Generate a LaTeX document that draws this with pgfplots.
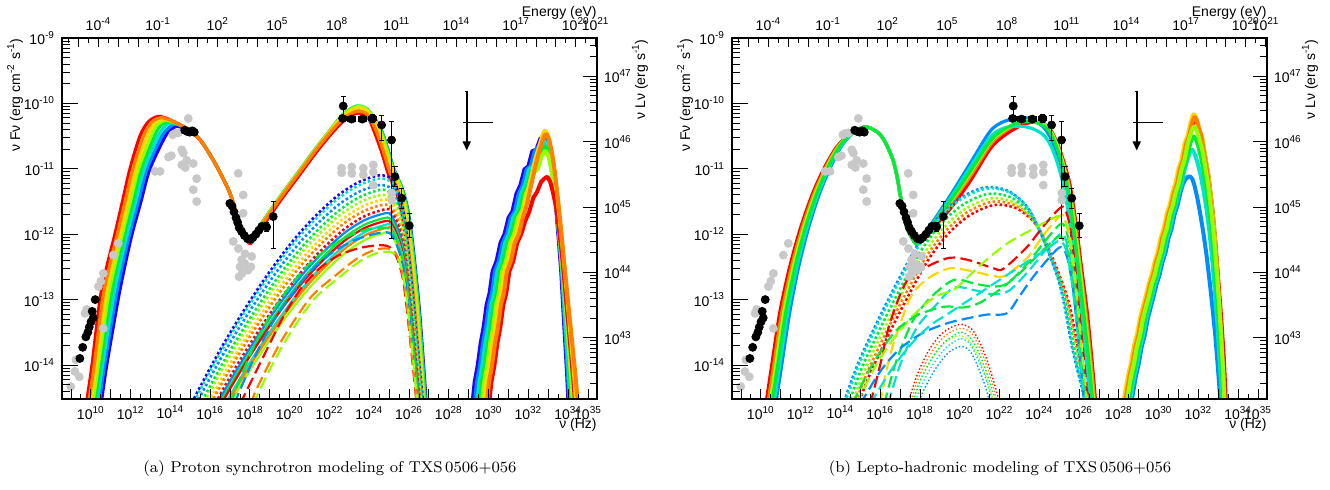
\documentclass[border=0pt]{standalone}
\usepackage{fontspec}
\newfontfamily\hel{Liberation Sans}
\usepackage{pgfplots}
\pgfplotsset{compat=1.18}
\usetikzlibrary{arrows.meta}

\definecolor{cRed}{RGB}{255,0,0}
\definecolor{cOrg}{RGB}{255,128,0}
\definecolor{cYel}{RGB}{255,215,0}
\definecolor{cChr}{RGB}{150,255,0}
\definecolor{cGrn}{RGB}{0,235,60}
\definecolor{cCyn}{RGB}{0,228,205}
\definecolor{cAzu}{RGB}{0,140,255}
\definecolor{cBlu}{RGB}{40,0,255}
\definecolor{ptgray}{RGB}{200,200,200}

\newcommand\tp[1]{10\textsuperscript{#1}}
\newcommand\lab{\hel\fontsize{7}{8}\selectfont}

% log minor ticks (axes hold log10 values)
\def\yminL{-14.39794}
\foreach \n in {-15,...,-10}{\foreach \k in {2,...,9}{%
  \pgfmathsetmacro\v{\n+log10(\k)}%
  \ifdim\v pt>-14.39pt\relax\xdef\yminL{\yminL,\v}\fi}}
\def\yminR{42.30103}
\foreach \n in {42,...,47}{\foreach \k in {2,...,9}{%
  \pgfmathsetmacro\v{\n+log10(\k)}%
  \ifdim\v pt>42.31pt\relax\ifdim\v pt<47.58pt\relax\xdef\yminR{\yminR,\v}\fi\fi}}

\pgfplotsset{
  base/.style={scale only axis, width=267.5pt, height=180.5pt, anchor=south west,
    tick align=inside, tick label style={font=\lab},
    axis line style={line width=0.65pt}, every tick/.style={black, line width=0.45pt}},
  mainax/.style={base, xmin=8.55, xmax=35.45, ymin=-14.52, ymax=-9,
    xtick=\empty, ytick=\empty, clip=true},
  botax/.style={base, xmin=8.55, xmax=35.45, ymin=0, ymax=1,
    axis x line*=bottom, axis y line=none, xtick={9,...,35},
    xticklabels={{},\tp{10},{},\tp{12},{},\tp{14},{},\tp{16},{},\tp{18},{},\tp{20},{},\tp{22},{},\tp{24},{},\tp{26},{},\tp{28},{},\tp{30},{},\tp{32},{},\tp{34},\tp{35}},
    minor xtick={8.5,9.5,...,35.5}, major tick length=5pt, minor tick length=2.5pt},
  topax/.style={base, xmin=-5.8335, xmax=21.0665, ymin=0, ymax=1,
    axis x line*=top, axis y line=none, xtick={-5,...,21},
    xticklabels={{},\tp{-4},{},{},\tp{-1},{},{},\tp{2},{},{},\tp{5},{},{},\tp{8},{},{},\tp{11},{},{},\tp{14},{},{},\tp{17},{},{},\tp{20},\tp{21}},
    minor xtick={-5.5,-4.5,...,20.5}, major tick length=4.5pt, minor tick length=2.3pt},
  leftax/.style={base, xmin=0, xmax=1, ymin=-14.52, ymax=-9,
    axis y line*=left, axis x line=none, ytick={-14,...,-9},
    yticklabels={\tp{-14},\tp{-13},\tp{-12},\tp{-11},\tp{-10},\tp{-9}},
    minor ytick/.expanded={\yminL}, major tick length=8pt, minor tick length=4pt},
  rightax/.style={base, xmin=0, xmax=1, ymin=42.065, ymax=47.585,
    axis y line*=right, axis x line=none, ytick={43,...,47},
    yticklabels={\tp{43},\tp{44},\tp{45},\tp{46},\tp{47}},
    minor ytick/.expanded={\yminR}, major tick length=7pt, minor tick length=3.5pt},
  synch/.style={line width=1.6pt, smooth, tension=0.5},
  dotl/.style={line width=1.3pt, dash pattern=on 1.3pt off 1.2pt, smooth},
  soll/.style={line width=1.1pt, smooth},
  dashl/.style={line width=1.1pt, dash pattern=on 6pt off 2.6pt, smooth},
  thind/.style={line width=0.7pt, dash pattern=on 0.7pt off 1.1pt, smooth},
  nu/.style={line width=2pt, line join=bevel},
  gry/.style={only marks, mark=*, mark size=2pt, color=ptgray, mark options={fill=ptgray}},
  blk/.style={only marks, mark=*, mark size=2pt, black, mark options={fill=black}},
  blkerr/.style={blk, error bars/.cd, x dir=both, x explicit, y dir=both, y explicit,
    error bar style={line width=0.5pt, black},
    error mark options={rotate=90, mark size=1.3pt, line width=0.5pt, black}},
}

% archival and contemporaneous data, shared by both panels
\newcommand\datapoints{%
\addplot[gry] coordinates {(8.99,-14.33)(9.2,-14.1)(9.25,-13.92)(9.42,-14.18)(9.71,-13.21)(9.79,-13.15)
 (10.38,-12.8)(10.5,-12.72)(10.63,-12.6)(10.63,-13.44)(11.13,-12.32)(11.38,-12.14)
 (13.23,-11.04)(13.48,-11.04)(13.9,-10.82)(14.05,-10.8)(14.23,-10.46)(14.12,-10.48)(14.4,-10.45)
 (14.57,-10.71)(14.65,-10.76)(14.82,-10.87)(14.57,-10.94)(14.75,-10.98)(15.15,-10.92)(14.9,-10.23)
 (15.32,-11.15)(15.15,-11.32)(15.32,-11.5)(17.41,-11.07)(17.66,-11.4)(17.66,-11.68)
 (17.16,-12.11)(17.42,-12.22)(17.58,-12.39)(17.5,-12.5)(17.75,-12.45)(17.75,-12.3)(18.09,-12.34)
 (17.6,-12.6)(17.9,-12.55)(18.05,-12.5)(17.45,-12.65)
 (22.61,-10.99)(22.61,-11.06)(23.12,-10.97)(23.12,-11.07)(23.7,-10.99)(23.7,-11.09)
 (24.2,-10.94)(24.2,-11.05)(24.2,-11.25)(25.13,-11.37)(25.13,-11.48)};
\addplot[blk] coordinates {(9.45,-13.9)(9.59,-13.73)(9.75,-13.57)(9.85,-13.5)(9.92,-13.42)(10.01,-13.34)
 (10.07,-13.18)(10.12,-13.28)(10.22,-13.0)
 (14.72,-10.41)(14.85,-10.43)(14.97,-10.44)(15.1,-10.42)(15.2,-10.44)
 (16.99,-11.53)(17.1,-11.57)(17.2,-11.66)(17.3,-11.75)(17.38,-11.82)(17.46,-11.9)(17.58,-11.96)
 (17.72,-12.02)(17.88,-12.07)(18.02,-12.08)(18.15,-12.05)(18.3,-12.0)(18.45,-11.94)(18.6,-11.88)};
\addplot[blkerr] coordinates {(18.84,-11.89) +- (0,0.07) (19.17,-11.73) += (0,0.23) -= (0,0.49)
 (22.69,-10.04) +- (0,0.14) (22.66,-10.23) +- (0.17,0) (23.11,-10.24) +- (0.2,0)
 (23.65,-10.24) +- (0.2,0) (24.17,-10.23) +- (0.2,0.06)
 (24.62,-10.33) += (0.15,0.15) -= (0.15,0.23) (25.12,-10.56) += (0.12,0.28) -= (0.12,1.5)
 (25.29,-11.12) +- (0.05,0.15) (25.63,-11.45) +- (0.05,0.15) (26.01,-11.87) +- (0.05,0.18)};
\addplot[black, line width=0.8pt] coordinates {(28.73,-10.29)(30.23,-10.29)};
\addplot[black, line width=0.8pt] coordinates {(28.82,-9.82)(28.98,-9.82)};
\addplot[black, line width=0.8pt, -{Triangle[width=4pt,length=4.5pt]}] coordinates {(28.9,-9.82)(28.9,-10.72)};
}

\begin{document}
\begin{tikzpicture}
\useasboundingbox (0,0) rectangle (665pt,244.5pt);

% ================= panel (a) =================
\begin{axis}[mainax, at={(31pt,45pt)}]
% synchrotron + proton synchrotron, rainbow of parameter sets
\addplot[cBlu, synch] coordinates {(10.32,-15)(10.55,-14.52)(10.8,-14)(11.37,-13)(11.7,-12.5)(12.07,-12)(12.52,-11.5)(12.97,-11)(13.75,-10.5)(14.05,-10.4)(14.3,-10.35)(14.6,-10.37)(15.07,-10.43)(15.6,-10.6)(16.16,-10.87)(16.6,-11.12)(16.99,-11.37)(17.25,-11.62)(17.5,-11.89)(17.8,-12.06)(18.04,-12.12)(18.5,-11.9)(19.5,-11.46)(20.5,-11.05)(21.3,-10.72)(22.02,-10.45)(22.7,-10.22)(23.37,-10.12)(23.9,-10.16)(24.55,-10.38)(24.95,-10.72)(25.25,-11.02)(25.65,-11.3)(25.95,-11.65)(26.2,-12.2)(26.53,-13.2)(26.85,-14.52)(26.95,-15)};
\addplot[cAzu, synch] coordinates {(10.21,-15)(10.44,-14.52)(10.69,-14)(11.24,-13)(11.57,-12.5)(11.95,-12)(12.39,-11.5)(12.83,-11)(13.57,-10.5)(13.9,-10.38)(14.15,-10.32)(14.45,-10.33)(14.7,-10.37)(15.07,-10.43)(15.6,-10.6)(16.16,-10.87)(16.6,-11.12)(16.99,-11.37)(17.25,-11.62)(17.5,-11.89)(17.8,-12.06)(18.04,-12.11)(18.5,-11.89)(19.5,-11.45)(20.5,-11.04)(21.3,-10.71)(22.02,-10.44)(22.7,-10.21)(23.37,-10.1)(23.9,-10.14)(24.52,-10.37)(24.92,-10.71)(25.22,-11.01)(25.62,-11.29)(25.92,-11.64)(26.17,-12.19)(26.5,-13.19)(26.82,-14.52)(26.92,-15)};
\addplot[cCyn, synch] coordinates {(10.11,-15)(10.34,-14.52)(10.59,-14)(11.11,-13)(11.44,-12.5)(11.82,-12)(12.25,-11.5)(12.68,-11)(13.38,-10.5)(13.7,-10.36)(14.0,-10.3)(14.3,-10.31)(14.6,-10.35)(15.07,-10.43)(15.6,-10.6)(16.16,-10.87)(16.6,-11.12)(16.99,-11.37)(17.25,-11.62)(17.5,-11.89)(17.8,-12.06)(18.04,-12.1)(18.5,-11.88)(19.5,-11.44)(20.5,-11.03)(21.3,-10.7)(22.02,-10.43)(22.7,-10.19)(23.37,-10.08)(23.9,-10.12)(24.5,-10.35)(24.9,-10.69)(25.2,-10.99)(25.6,-11.27)(25.9,-11.62)(26.15,-12.17)(26.48,-13.17)(26.8,-14.52)(26.9,-15)};
\addplot[cGrn, synch] coordinates {(10.0,-15)(10.23,-14.52)(10.48,-14)(10.98,-13)(11.31,-12.5)(11.70,-12)(12.12,-11.5)(12.54,-11)(13.20,-10.5)(13.5,-10.34)(13.88,-10.28)(14.2,-10.3)(14.55,-10.34)(15.07,-10.43)(15.6,-10.6)(16.16,-10.87)(16.6,-11.12)(16.99,-11.37)(17.25,-11.62)(17.5,-11.89)(17.8,-12.06)(18.04,-12.09)(18.5,-11.87)(19.5,-11.43)(20.5,-11.02)(21.3,-10.69)(22.02,-10.41)(22.7,-10.16)(23.37,-10.04)(23.9,-10.09)(24.48,-10.33)(24.88,-10.67)(25.18,-10.97)(25.58,-11.25)(25.88,-11.6)(26.13,-12.15)(26.46,-13.15)(26.78,-14.52)(26.88,-15)};
\addplot[cChr, synch] coordinates {(9.9,-15)(10.13,-14.52)(10.38,-14)(10.85,-13)(11.19,-12.5)(11.58,-12)(11.99,-11.5)(12.40,-11)(13.02,-10.5)(13.35,-10.32)(13.75,-10.26)(14.1,-10.28)(14.5,-10.33)(15.07,-10.43)(15.6,-10.6)(16.16,-10.87)(16.6,-11.12)(16.99,-11.37)(17.25,-11.62)(17.5,-11.89)(17.8,-12.06)(18.04,-12.1)(18.5,-11.88)(19.5,-11.44)(20.5,-11.03)(21.3,-10.7)(22.02,-10.42)(22.7,-10.17)(23.37,-10.05)(23.9,-10.1)(24.45,-10.34)(24.85,-10.68)(25.15,-10.98)(25.55,-11.26)(25.85,-11.61)(26.1,-12.16)(26.43,-13.16)(26.75,-14.52)(26.85,-15)};
\addplot[cYel, synch] coordinates {(9.79,-15)(10.02,-14.52)(10.27,-14)(10.72,-13)(11.06,-12.5)(11.46,-12)(11.86,-11.5)(12.26,-11)(12.84,-10.5)(13.2,-10.3)(13.62,-10.24)(14.0,-10.26)(14.5,-10.33)(15.07,-10.43)(15.6,-10.6)(16.16,-10.87)(16.6,-11.12)(16.99,-11.37)(17.25,-11.62)(17.5,-11.89)(17.8,-12.06)(18.04,-12.11)(18.5,-11.89)(19.5,-11.45)(20.5,-11.04)(21.3,-10.71)(22.02,-10.43)(22.7,-10.19)(23.37,-10.07)(23.9,-10.12)(24.4,-10.36)(24.8,-10.7)(25.1,-11.0)(25.5,-11.28)(25.8,-11.63)(26.05,-12.18)(26.38,-13.18)(26.7,-14.52)(26.8,-15)};
\addplot[cRed, synch] coordinates {(9.58,-15)(9.81,-14.52)(10.06,-14)(10.46,-13)(10.8,-12.5)(11.21,-12)(11.59,-11.5)(11.97,-11)(12.47,-10.5)(12.9,-10.28)(13.39,-10.2)(13.9,-10.24)(14.5,-10.33)(15.07,-10.43)(15.6,-10.6)(16.16,-10.87)(16.6,-11.12)(16.99,-11.37)(17.25,-11.62)(17.5,-11.89)(17.8,-12.06)(18.04,-12.14)(18.5,-11.94)(19.5,-11.5)(20.5,-11.09)(21.3,-10.76)(22.02,-10.49)(22.7,-10.27)(23.37,-10.15)(23.9,-10.2)(24.25,-10.43)(24.65,-10.77)(24.95,-11.07)(25.35,-11.35)(25.65,-11.7)(25.9,-12.25)(26.23,-13.25)(26.55,-14.52)(26.65,-15)};
\addplot[cOrg, synch] coordinates {(9.69,-15)(9.92,-14.52)(10.17,-14)(10.59,-13)(10.93,-12.5)(11.33,-12)(11.72,-11.5)(12.11,-11)(12.65,-10.5)(13.05,-10.29)(13.5,-10.22)(13.95,-10.25)(14.5,-10.33)(15.07,-10.43)(15.6,-10.6)(16.16,-10.87)(16.6,-11.12)(16.99,-11.37)(17.25,-11.62)(17.5,-11.89)(17.8,-12.06)(18.04,-12.12)(18.5,-11.9)(19.5,-11.46)(20.5,-11.05)(21.3,-10.72)(22.02,-10.45)(22.7,-10.23)(23.37,-10.12)(23.9,-10.17)(24.32,-10.4)(24.72,-10.74)(25.02,-11.04)(25.42,-11.32)(25.72,-11.67)(25.97,-12.22)(26.3,-13.22)(26.62,-14.52)(26.72,-15)};
% components: dotted
\addplot[cBlu, dotl] coordinates {(14.5,-14.92)(15.5,-14.33)(16.5,-13.77)(17.5,-13.26)(18.5,-12.79)(19.5,-12.36)(20.5,-11.98)(21.5,-11.66)(22.5,-11.39)(23.5,-11.2)(24.5,-11.1)(25.1,-11.15)(25.45,-11.35)(25.75,-11.7)(26.05,-12.5)(26.35,-13.45)(26.65,-14.4)(26.85,-15.1)};
\addplot[cCyn, dotl] coordinates {(14.5,-14.97)(15.5,-14.38)(16.5,-13.82)(17.5,-13.31)(18.5,-12.84)(19.5,-12.41)(20.5,-12.03)(21.5,-11.71)(22.5,-11.44)(23.5,-11.25)(24.5,-11.15)(25.1,-11.2)(25.45,-11.4)(25.75,-11.75)(26.05,-12.55)(26.35,-13.5)(26.65,-14.45)(26.85,-15.15)};
\addplot[cAzu, dotl] coordinates {(14.5,-15.07)(15.5,-14.48)(16.5,-13.92)(17.5,-13.41)(18.5,-12.94)(19.5,-12.51)(20.5,-12.13)(21.5,-11.81)(22.5,-11.54)(23.5,-11.35)(24.5,-11.25)(25.1,-11.3)(25.45,-11.5)(25.75,-11.85)(26.05,-12.65)(26.35,-13.6)(26.65,-14.55)};
\addplot[cGrn, dotl] coordinates {(15.6,-14.55)(16.6,-13.99)(17.6,-13.48)(18.6,-13.01)(19.6,-12.58)(20.6,-12.2)(21.6,-11.88)(22.6,-11.61)(23.6,-11.42)(24.6,-11.32)(25.1,-11.37)(25.45,-11.57)(25.75,-11.92)(26.05,-12.72)(26.35,-13.67)(26.65,-14.62)};
\addplot[cChr, dotl] coordinates {(15.6,-14.63)(16.6,-14.07)(17.6,-13.56)(18.6,-13.09)(19.6,-12.66)(20.6,-12.28)(21.6,-11.96)(22.6,-11.69)(23.6,-11.5)(24.6,-11.4)(25.1,-11.45)(25.45,-11.65)(25.75,-12.0)(26.05,-12.8)(26.35,-13.75)(26.65,-14.7)};
\addplot[cYel, dotl] coordinates {(15.7,-14.7)(16.7,-14.14)(17.7,-13.63)(18.7,-13.16)(19.7,-12.73)(20.7,-12.35)(21.7,-12.03)(22.7,-11.76)(23.7,-11.57)(24.7,-11.47)(25.1,-11.51)(25.45,-11.72)(25.75,-12.07)(26.05,-12.87)(26.35,-13.82)(26.65,-14.77)};
\addplot[cOrg, dotl] coordinates {(15.7,-14.78)(16.7,-14.22)(17.7,-13.71)(18.7,-13.24)(19.7,-12.81)(20.7,-12.43)(21.7,-12.11)(22.7,-11.84)(23.7,-11.65)(24.7,-11.55)(25.1,-11.59)(25.45,-11.8)(25.75,-12.15)(26.05,-12.95)(26.35,-13.9)(26.65,-14.85)};
\addplot[cRed, dotl] coordinates {(15.8,-14.85)(16.8,-14.29)(17.8,-13.78)(18.8,-13.31)(19.8,-12.88)(20.8,-12.5)(21.8,-12.18)(22.8,-11.91)(23.8,-11.72)(24.8,-11.62)(25.1,-11.65)(25.45,-11.87)(25.75,-12.22)(26.05,-13.02)(26.35,-13.97)(26.65,-14.92)};
% components: solid
\addplot[cAzu, soll] coordinates {(15.8,-14.91)(16.8,-14.35)(17.8,-13.84)(18.8,-13.37)(19.8,-12.94)(20.8,-12.56)(21.8,-12.24)(22.8,-11.97)(23.8,-11.78)(24.8,-11.68)(25.1,-11.71)(25.45,-11.93)(25.75,-12.28)(26.05,-13.08)(26.35,-14.03)(26.65,-14.98)};
\addplot[cGrn, soll] coordinates {(15.8,-14.98)(16.8,-14.42)(17.8,-13.91)(18.8,-13.44)(19.8,-13.01)(20.8,-12.63)(21.8,-12.31)(22.8,-12.04)(23.8,-11.85)(24.8,-11.75)(25.1,-11.78)(25.45,-12.0)(25.75,-12.35)(26.05,-13.15)(26.35,-14.1)(26.65,-15.05)};
\addplot[cRed, soll] coordinates {(15.8,-15.03)(16.8,-14.47)(17.8,-13.96)(18.8,-13.49)(19.8,-13.06)(20.8,-12.68)(21.8,-12.36)(22.8,-12.09)(23.8,-11.9)(24.8,-11.8)(25.1,-11.83)(25.45,-12.05)(25.75,-12.4)(26.05,-13.2)(26.35,-14.15)(26.65,-15.1)};
\addplot[cCyn, soll] coordinates {(15.9,-15.08)(16.9,-14.52)(17.9,-14.01)(18.9,-13.54)(19.9,-13.11)(20.9,-12.73)(21.9,-12.41)(22.9,-12.14)(23.9,-11.95)(24.9,-11.85)(25.1,-11.87)(25.45,-12.1)(25.75,-12.45)(26.05,-13.25)(26.35,-14.2)(26.65,-15.15)};
\addplot[cOrg, soll] coordinates {(16.9,-14.57)(17.9,-14.06)(18.9,-13.59)(19.9,-13.16)(20.9,-12.78)(21.9,-12.46)(22.9,-12.19)(23.9,-12.0)(24.9,-11.9)(25.1,-11.92)(25.45,-12.15)(25.75,-12.5)(26.05,-13.3)(26.35,-14.25)(26.65,-15.2)};
\addplot[cChr, soll] coordinates {(16.9,-14.64)(17.9,-14.13)(18.9,-13.66)(19.9,-13.23)(20.9,-12.85)(21.9,-12.53)(22.9,-12.26)(23.9,-12.07)(24.9,-11.97)(25.1,-11.99)(25.45,-12.22)(25.75,-12.57)(26.05,-13.37)(26.35,-14.32)(26.65,-15.27)};
% components: dashed
\addplot[cGrn, dashl] coordinates {(17.0,-14.6)(18.0,-13.85)(19.0,-13.25)(20.0,-12.8)(21.0,-12.45)(22.0,-12.2)(23.0,-12.02)(24.0,-11.92)(24.8,-11.9)(25.15,-11.95)(25.45,-12.15)(25.75,-12.5)(26.05,-13.3)(26.35,-14.25)(26.5,-14.8)};
\addplot[cAzu, dashl] coordinates {(17.2,-14.6)(18.2,-13.9)(19.2,-13.32)(20.2,-12.88)(21.2,-12.52)(22.2,-12.27)(23.2,-12.1)(24.2,-12.0)(24.85,-11.97)(25.15,-12.02)(25.45,-12.22)(25.75,-12.57)(26.05,-13.37)(26.35,-14.32)(26.5,-14.8)};
\addplot[cRed, dashl] coordinates {(17.5,-14.6)(18.84,-13.77)(19.7,-13.25)(20.52,-12.85)(21.4,-12.55)(22.36,-12.34)(23.4,-12.22)(24.37,-12.17)(24.9,-12.18)(25.2,-12.25)(25.5,-12.45)(25.75,-12.8)(26.05,-13.6)(26.35,-14.5)(26.5,-15)};
\addplot[cOrg, dashl] coordinates {(18.1,-14.6)(18.24,-14.43)(19.1,-13.9)(19.91,-13.47)(21.1,-12.95)(22.43,-12.6)(23.4,-12.37)(24.27,-12.24)(24.94,-12.22)(25.3,-12.28)(25.55,-12.45)(25.8,-12.85)(26.05,-13.55)(26.35,-14.45)(26.5,-15)};
\addplot[cChr, dashl] coordinates {(18.2,-14.6)(18.34,-14.48)(19.2,-13.95)(20.01,-13.52)(21.2,-13.0)(22.53,-12.65)(23.5,-12.42)(24.37,-12.29)(25.04,-12.27)(25.35,-12.33)(25.6,-12.5)(25.85,-12.9)(26.1,-13.6)(26.4,-14.5)(26.55,-15)};
% high-energy bump
\addplot[cBlu, nu] coordinates {(29.15,-14.7)(29.3,-14.26)(29.45,-14.01)(29.6,-13.67)(29.75,-13.42)(29.9,-13.08)(30.05,-12.9)(30.2,-12.57)(30.4,-12.41)(30.6,-12.13)(30.8,-12.0)(31.0,-11.75)(31.2,-11.65)(31.4,-11.38)(31.6,-11.25)(31.8,-11.01)(32.0,-10.96)(32.2,-10.73)(32.4,-10.71)(32.6,-10.54)(32.75,-10.5)(32.9,-10.58)(33.05,-10.72)(33.2,-11.08)(33.35,-11.42)(33.5,-11.98)(33.65,-12.56)(33.8,-13.38)(33.95,-14.15)(34.05,-14.8)};
\addplot[cAzu, nu] coordinates {(29.27,-14.7)(29.42,-14.26)(29.57,-14.01)(29.72,-13.67)(29.87,-13.42)(30.02,-13.08)(30.17,-12.9)(30.32,-12.57)(30.52,-12.41)(30.72,-12.13)(30.92,-12.0)(31.12,-11.75)(31.32,-11.65)(31.52,-11.38)(31.72,-11.25)(31.92,-11.01)(32.12,-10.96)(32.32,-10.73)(32.52,-10.66)(32.68,-10.55)(32.8,-10.5)(32.95,-10.62)(33.1,-10.78)(33.25,-11.12)(33.4,-11.5)(33.55,-12.04)(33.7,-12.62)(33.85,-13.42)(34.0,-14.2)(34.1,-14.8)};
\addplot[cCyn, nu] coordinates {(29.39,-14.7)(29.54,-14.26)(29.69,-14.01)(29.84,-13.67)(29.99,-13.42)(30.14,-13.08)(30.29,-12.9)(30.44,-12.57)(30.64,-12.41)(30.84,-12.13)(31.04,-12.0)(31.24,-11.75)(31.44,-11.65)(31.64,-11.38)(31.84,-11.25)(32.04,-11.01)(32.24,-10.96)(32.44,-10.76)(32.62,-10.68)(32.8,-10.58)(32.95,-10.64)(33.1,-10.84)(33.25,-11.16)(33.4,-11.52)(33.55,-12.0)(33.72,-12.65)(33.88,-13.4)(34.05,-14.2)(34.15,-14.8)};
\addplot[cGrn, nu] coordinates {(29.51,-14.7)(29.66,-14.26)(29.81,-14.01)(29.96,-13.67)(30.11,-13.42)(30.26,-13.08)(30.41,-12.9)(30.56,-12.57)(30.76,-12.41)(30.96,-12.13)(31.16,-12.0)(31.36,-11.75)(31.56,-11.65)(31.76,-11.38)(31.96,-11.25)(32.16,-11.04)(32.36,-10.96)(32.56,-10.8)(32.72,-10.72)(32.85,-10.65)(33.0,-10.72)(33.15,-10.92)(33.3,-11.25)(33.45,-11.62)(33.62,-12.1)(33.8,-12.75)(33.95,-13.45)(34.1,-14.2)(34.22,-14.8)};
\addplot[cChr, nu] coordinates {(29.63,-14.7)(29.78,-14.26)(29.93,-14.01)(30.08,-13.67)(30.23,-13.42)(30.38,-13.08)(30.53,-12.9)(30.68,-12.57)(30.88,-12.41)(31.08,-12.13)(31.28,-12.0)(31.48,-11.75)(31.68,-11.65)(31.88,-11.38)(32.08,-11.28)(32.28,-11.06)(32.48,-11.0)(32.65,-10.82)(32.85,-10.72)(33.0,-10.8)(33.15,-11.0)(33.3,-11.3)(33.45,-11.7)(33.62,-12.2)(33.8,-12.8)(33.98,-13.5)(34.15,-14.2)(34.3,-14.8)};
\addplot[cRed, nu] coordinates {(29.99,-14.7)(30.14,-14.26)(30.29,-14.01)(30.44,-13.67)(30.59,-13.42)(30.74,-13.08)(30.89,-12.9)(31.04,-12.57)(31.24,-12.41)(31.44,-12.13)(31.64,-12.0)(31.84,-11.8)(32.04,-11.66)(32.24,-11.45)(32.44,-11.35)(32.64,-11.2)(32.8,-11.15)(32.95,-11.12)(33.1,-11.2)(33.25,-11.38)(33.4,-11.6)(33.55,-11.95)(33.7,-12.35)(33.85,-12.85)(34.0,-13.35)(34.15,-13.85)(34.28,-14.3)(34.4,-14.8)};
\addplot[cYel, nu] coordinates {(29.75,-14.7)(29.9,-14.26)(30.05,-14.01)(30.2,-13.67)(30.35,-13.42)(30.5,-13.08)(30.65,-12.9)(30.8,-12.57)(31.0,-12.41)(31.2,-12.13)(31.4,-12.0)(31.6,-11.75)(31.8,-11.6)(32.0,-11.3)(32.2,-11.05)(32.4,-10.8)(32.6,-10.6)(32.75,-10.45)(32.85,-10.41)(33.0,-10.5)(33.15,-10.7)(33.3,-11.0)(33.45,-11.4)(33.6,-11.85)(33.78,-12.4)(33.95,-12.95)(34.12,-13.55)(34.3,-14.15)(34.45,-14.8)};
\addplot[cOrg, nu] coordinates {(29.87,-14.7)(30.02,-14.26)(30.17,-14.01)(30.32,-13.67)(30.47,-13.42)(30.62,-13.08)(30.77,-12.9)(30.92,-12.57)(31.12,-12.41)(31.32,-12.13)(31.52,-12.0)(31.72,-11.75)(31.92,-11.55)(32.12,-11.28)(32.32,-11.0)(32.5,-10.78)(32.68,-10.6)(32.82,-10.48)(32.92,-10.47)(33.05,-10.56)(33.2,-10.78)(33.35,-11.1)(33.5,-11.5)(33.65,-11.95)(33.82,-12.5)(34.0,-13.05)(34.2,-13.65)(34.38,-14.2)(34.55,-14.8)};
\datapoints
\end{axis}
\begin{axis}[botax, at={(31pt,45pt)}]\end{axis}
\begin{axis}[leftax, at={(31pt,45pt)}]\end{axis}
\begin{axis}[topax, at={(31pt,45pt)}]\end{axis}
\begin{axis}[rightax, at={(31pt,45pt)}]\end{axis}
\node[rotate=90, anchor=east, inner sep=0pt, font=\lab] at (7.5pt,225.5pt) {ν Fν (erg cm\textsuperscript{-2} s\textsuperscript{-1})};
\node[rotate=90, anchor=east, inner sep=0pt, font=\lab] at (320pt,225pt) {ν Lν (erg s\textsuperscript{-1})};
\node[anchor=base east, inner sep=0pt, font=\lab] at (298.5pt,236.5pt) {Energy (eV)};
\node[anchor=base east, inner sep=0pt, font=\lab] at (298.5pt,30.5pt) {ν (Hz)};
\node[anchor=base, inner sep=0pt, font=\fontsize{7.85}{10}\selectfont] at (165pt,8.5pt) {(a) Proton synchrotron modeling of TXS\,0506+056};

% ================= panel (b) =================
\begin{axis}[mainax, at={(366pt,45pt)}]
\addplot[cRed, synch] coordinates {(10.05,-15)(10.29,-14.52)(10.55,-14)(10.95,-13.2)(11.45,-12.5)(12.0,-11.9)(12.6,-11.38)(13.2,-10.98)(13.8,-10.67)(14.4,-10.48)(14.9,-10.39)(15.32,-10.36)(15.65,-10.4)(15.98,-10.47)(16.3,-10.62)(16.65,-10.87)(16.85,-11.12)(16.99,-11.37)(17.15,-11.62)(17.33,-11.89)(17.6,-12.06)(17.9,-12.15)(18.5,-11.96)(19.5,-11.62)(20.5,-11.2)(21.52,-10.7)(22.2,-10.5)(23.0,-10.35)(23.6,-10.29)(24.2,-10.3)(24.6,-10.42)(25.0,-10.68)(25.5,-11.18)(25.82,-11.78)(26.12,-12.5)(26.45,-13.3)(26.8,-14.45)(26.9,-15)};
\addplot[cOrg, synch] coordinates {(10.15,-15)(10.39,-14.52)(10.65,-14)(11.05,-13.2)(11.54,-12.5)(12.08,-11.9)(12.67,-11.38)(13.26,-10.98)(13.84,-10.67)(14.42,-10.48)(14.91,-10.39)(15.32,-10.36)(15.65,-10.4)(15.98,-10.47)(16.3,-10.62)(16.65,-10.87)(16.85,-11.12)(16.99,-11.37)(17.15,-11.62)(17.33,-11.89)(17.6,-12.06)(17.9,-12.15)(18.5,-11.93)(19.5,-11.55)(20.5,-11.13)(21.52,-10.64)(22.2,-10.44)(23.0,-10.3)(23.6,-10.27)(24.2,-10.31)(24.6,-10.45)(25.0,-10.72)(25.45,-11.2)(25.78,-11.8)(26.08,-12.55)(26.4,-13.35)(26.75,-14.45)(26.85,-15)};
\addplot[cAzu, synch] coordinates {(10.55,-15)(10.79,-14.52)(11.05,-14)(11.45,-13.2)(11.9,-12.5)(12.4,-11.9)(12.95,-11.38)(13.5,-10.98)(14.02,-10.67)(14.52,-10.48)(14.95,-10.39)(15.32,-10.36)(15.65,-10.4)(15.98,-10.47)(16.3,-10.62)(16.65,-10.87)(16.85,-11.12)(16.99,-11.37)(17.15,-11.62)(17.33,-11.89)(17.6,-12.06)(17.9,-12.15)(18.5,-11.88)(19.5,-11.42)(20.5,-10.93)(21.52,-10.43)(22.2,-10.28)(23.0,-10.22)(23.6,-10.24)(24.2,-10.36)(24.6,-10.55)(25.0,-10.9)(25.3,-11.35)(25.6,-11.95)(25.9,-12.7)(26.2,-13.5)(26.55,-14.5)(26.65,-15)};
\addplot[cCyn, synch] coordinates {(10.45,-15)(10.69,-14.52)(10.95,-14)(11.35,-13.2)(11.81,-12.5)(12.32,-11.9)(12.88,-11.38)(13.44,-10.98)(13.98,-10.67)(14.5,-10.48)(14.94,-10.39)(15.32,-10.36)(15.65,-10.4)(15.98,-10.47)(16.3,-10.62)(16.65,-10.87)(16.85,-11.12)(16.99,-11.37)(17.15,-11.62)(17.33,-11.89)(17.6,-12.06)(17.9,-12.15)(18.5,-11.9)(19.5,-11.46)(20.5,-10.99)(21.52,-10.52)(22.2,-10.38)(23.0,-10.35)(23.6,-10.38)(24.2,-10.48)(24.6,-10.66)(25.0,-11.0)(25.35,-11.45)(25.65,-12.05)(25.95,-12.8)(26.25,-13.6)(26.6,-14.55)(26.7,-15)};
\addplot[cChr, synch] coordinates {(10.25,-15)(10.49,-14.52)(10.75,-14)(11.15,-13.2)(11.63,-12.5)(12.16,-11.9)(12.74,-11.38)(13.32,-10.98)(13.89,-10.67)(14.45,-10.48)(14.92,-10.39)(15.32,-10.36)(15.65,-10.4)(15.98,-10.47)(16.3,-10.62)(16.65,-10.87)(16.85,-11.12)(16.99,-11.37)(17.15,-11.62)(17.33,-11.89)(17.6,-12.06)(17.9,-12.15)(18.5,-11.92)(19.5,-11.52)(20.5,-11.08)(21.52,-10.6)(22.2,-10.42)(23.0,-10.28)(23.6,-10.26)(24.2,-10.3)(24.6,-10.44)(25.0,-10.72)(25.42,-11.2)(25.75,-11.8)(26.05,-12.55)(26.35,-13.35)(26.7,-14.45)(26.8,-15)};
\addplot[cGrn, synch] coordinates {(10.35,-15)(10.59,-14.52)(10.85,-14)(11.25,-13.2)(11.72,-12.5)(12.24,-11.9)(12.81,-11.38)(13.38,-10.98)(13.93,-10.67)(14.47,-10.48)(14.93,-10.39)(15.32,-10.36)(15.65,-10.4)(15.98,-10.47)(16.3,-10.62)(16.65,-10.87)(16.85,-11.12)(16.99,-11.37)(17.15,-11.62)(17.33,-11.89)(17.6,-12.06)(17.9,-12.15)(18.5,-11.91)(19.5,-11.5)(20.5,-11.05)(21.52,-10.58)(22.2,-10.4)(23.0,-10.29)(23.6,-10.28)(24.2,-10.34)(24.6,-10.48)(25.0,-10.78)(25.4,-11.25)(25.7,-11.85)(26.0,-12.6)(26.3,-13.4)(26.65,-14.45)(26.75,-15)};
% thick dotted bump
\addplot[cRed, dotl] coordinates {(14.4,-15.05)(14.7,-14.77)(15.4,-14.2)(16.4,-13.55)(17.4,-12.95)(18.4,-12.4)(19.4,-12.0)(20.4,-11.73)(21.4,-11.58)(22.1,-11.55)(22.9,-11.61)(23.6,-11.77)(24.1,-11.98)(24.77,-12.44)(25.44,-13.0)(25.8,-13.5)(26.11,-14.02)(26.45,-14.45)(26.78,-14.85)};
\addplot[cOrg, dotl] coordinates {(14.3,-15.0)(14.6,-14.72)(15.3,-14.15)(16.3,-13.5)(17.3,-12.9)(18.3,-12.35)(19.3,-11.95)(20.3,-11.68)(21.3,-11.53)(22.0,-11.5)(22.8,-11.56)(23.5,-11.72)(24.0,-11.93)(24.67,-12.39)(25.34,-12.95)(25.7,-13.45)(26.01,-13.97)(26.35,-14.4)(26.68,-14.8)};
\addplot[cChr, dotl] coordinates {(14.2,-14.95)(14.5,-14.67)(15.2,-14.1)(16.2,-13.45)(17.2,-12.85)(18.2,-12.3)(19.2,-11.9)(20.2,-11.63)(21.2,-11.48)(21.9,-11.45)(22.7,-11.51)(23.4,-11.67)(23.9,-11.88)(24.57,-12.34)(25.24,-12.9)(25.6,-13.4)(25.91,-13.92)(26.25,-14.35)(26.58,-14.75)};
\addplot[cGrn, dotl] coordinates {(14.1,-14.88)(14.4,-14.6)(15.1,-14.03)(16.1,-13.38)(17.1,-12.78)(18.1,-12.23)(19.1,-11.83)(20.1,-11.56)(21.1,-11.41)(21.8,-11.38)(22.6,-11.44)(23.3,-11.6)(23.8,-11.81)(24.47,-12.27)(25.14,-12.83)(25.5,-13.33)(25.81,-13.85)(26.15,-14.28)(26.48,-14.68)};
\addplot[cAzu, dotl] coordinates {(13.95,-14.78)(14.25,-14.5)(14.95,-13.93)(15.95,-13.28)(16.95,-12.68)(17.95,-12.13)(18.95,-11.73)(19.95,-11.46)(20.95,-11.31)(21.65,-11.28)(22.45,-11.34)(23.15,-11.5)(23.65,-11.71)(24.32,-12.17)(24.99,-12.73)(25.35,-13.23)(25.66,-13.75)(26.0,-14.18)(26.33,-14.58)(26.45,-14.78)};
\addplot[cCyn, dotl] coordinates {(14.0,-14.8)(14.3,-14.52)(15,-13.95)(16,-13.3)(17,-12.7)(18,-12.15)(19,-11.75)(20,-11.48)(21,-11.33)(21.7,-11.3)(22.5,-11.36)(23.2,-11.52)(23.7,-11.73)(24.37,-12.19)(25.04,-12.75)(25.4,-13.25)(25.71,-13.77)(26.05,-14.2)(26.38,-14.6)(26.5,-14.8)};
% dashed components
\addplot[cRed, dashl] coordinates {(15.5,-14.6)(16.0,-14.0)(16.5,-13.35)(17.33,-12.72)(18.34,-12.5)(19.5,-12.36)(20.5,-12.4)(21.69,-12.52)(22.19,-12.53)(23.37,-12.2)(24.2,-11.88)(25.04,-11.6)(25.3,-11.62)(25.55,-11.9)(25.8,-12.5)(26.05,-13.3)(26.3,-14.1)(26.5,-14.8)};
\addplot[cYel, dashl] coordinates {(16.0,-14.6)(16.5,-13.85)(17.5,-12.98)(18.4,-12.68)(19.5,-12.52)(20.5,-12.56)(21.7,-12.64)(22.3,-12.63)(23.4,-12.36)(24.2,-12.02)(25.04,-11.72)(25.3,-11.76)(25.55,-12.05)(25.8,-12.65)(26.05,-13.45)(26.3,-14.25)(26.5,-14.9)};
\addplot[cGrn, dashl] coordinates {(16.2,-14.6)(16.8,-13.95)(17.6,-13.35)(18.5,-12.98)(19.7,-12.7)(20.8,-12.76)(21.7,-12.8)(22.4,-12.75)(23.4,-12.45)(24.3,-12.1)(25.04,-11.85)(25.3,-11.9)(25.55,-12.2)(25.8,-12.8)(26.05,-13.6)(26.3,-14.4)(26.45,-14.9)};
\addplot[cCyn, dashl] coordinates {(16.4,-14.6)(17.0,-14.0)(17.8,-13.45)(18.7,-13.12)(19.7,-12.82)(20.8,-12.86)(21.7,-12.92)(22.5,-12.86)(23.5,-12.55)(24.3,-12.25)(25.04,-12.0)(25.3,-12.05)(25.55,-12.35)(25.8,-12.95)(26.05,-13.75)(26.3,-14.5)(26.4,-14.9)};
\addplot[cChr, dashl] coordinates {(14.8,-14.6)(15.8,-14.0)(16.8,-13.55)(17.8,-13.2)(18.8,-12.95)(19.7,-12.85)(20.6,-12.6)(21.5,-12.35)(22.5,-12.12)(23.5,-11.95)(24.4,-11.8)(25.0,-11.72)(25.3,-11.8)(25.55,-12.15)(25.8,-12.8)(26.05,-13.6)(26.3,-14.4)(26.45,-14.9)};
\addplot[cGrn, dashl] coordinates {(14.6,-14.6)(15.5,-14.05)(16.66,-13.52)(17.8,-13.25)(19.17,-13.11)(20.2,-13.12)(21.0,-13.05)(22.0,-12.85)(23.0,-12.6)(24.0,-12.3)(24.9,-12.05)(25.2,-12.08)(25.5,-12.35)(25.75,-12.9)(26.0,-13.65)(26.25,-14.4)(26.4,-14.9)};
\addplot[cAzu, dashl] coordinates {(15.0,-14.6)(16.0,-14.1)(17.0,-13.75)(18.2,-13.5)(19.5,-13.35)(20.5,-13.28)(21.35,-13.23)(22.36,-13.21)(23.0,-12.95)(23.7,-12.65)(24.7,-12.29)(25.1,-12.2)(25.4,-12.35)(25.7,-12.85)(25.95,-13.6)(26.2,-14.4)(26.35,-14.9)};
\addplot[cCyn, dashl] coordinates {(15.5,-14.6)(16.5,-14.1)(17.5,-13.7)(18.5,-13.4)(19.5,-13.2)(20.5,-13.0)(21.5,-12.8)(22.5,-12.6)(23.5,-12.4)(24.5,-12.2)(25.0,-12.1)(25.3,-12.2)(25.55,-12.55)(25.8,-13.15)(26.05,-13.9)(26.3,-14.6)};
% thin dotted small bump
\addplot[cRed, thind] coordinates {(17.3,-14.7)(17.8,-14.2)(18.4,-13.8)(19.0,-13.55)(19.6,-13.42)(20.1,-13.38)(20.6,-13.45)(21.0,-13.65)(21.4,-13.95)(21.8,-14.35)(22.1,-14.7)};
\addplot[cOrg, thind] coordinates {(17.4,-14.7)(17.9,-14.22)(18.5,-13.85)(19.1,-13.6)(19.7,-13.47)(20.1,-13.44)(20.55,-13.5)(20.95,-13.7)(21.35,-14.0)(21.75,-14.4)(22.0,-14.7)};
\addplot[cChr, thind] coordinates {(17.45,-14.7)(17.95,-14.28)(18.55,-13.92)(19.15,-13.68)(19.75,-13.57)(20.05,-13.55)(20.45,-13.62)(20.85,-13.82)(21.25,-14.12)(21.65,-14.5)(21.9,-14.78)};
\addplot[cGrn, thind] coordinates {(17.5,-14.7)(18.0,-14.25)(18.6,-13.9)(19.2,-13.66)(19.8,-13.53)(20.1,-13.5)(20.5,-13.57)(20.9,-13.77)(21.3,-14.07)(21.7,-14.45)(21.95,-14.75)};
\addplot[cCyn, thind] coordinates {(17.6,-14.7)(18.1,-14.3)(18.7,-13.97)(19.3,-13.74)(19.8,-13.63)(20.1,-13.6)(20.5,-13.67)(20.85,-13.87)(21.25,-14.15)(21.6,-14.5)(21.85,-14.8)};
\addplot[cAzu, thind] coordinates {(17.7,-14.75)(18.2,-14.38)(18.8,-14.05)(19.4,-13.82)(19.9,-13.73)(20.15,-13.72)(20.5,-13.78)(20.85,-13.98)(21.2,-14.25)(21.5,-14.55)(21.7,-14.8)};
% high-energy bump
\addplot[cRed, nu] coordinates {(28.28,-14.7)(28.43,-14.45)(28.58,-14.18)(28.73,-13.98)(28.88,-13.72)(29.03,-13.55)(29.18,-13.3)(29.33,-13.12)(29.48,-12.95)(29.63,-12.76)(29.78,-12.62)(29.93,-12.42)(30.08,-12.28)(30.23,-12.06)(30.38,-11.92)(30.53,-11.7)(30.68,-11.56)(30.83,-11.36)(30.98,-11.22)(31.13,-11.0)(31.28,-10.86)(31.43,-10.62)(31.58,-10.5)(31.72,-10.3)(31.82,-10.22)(31.95,-10.3)(32.1,-10.45)(32.3,-10.75)(32.5,-11.1)(32.7,-11.6)(32.85,-12.1)(33.0,-12.7)(33.15,-13.3)(33.28,-13.9)(33.4,-14.7)};
\addplot[cYel, nu] coordinates {(28.15,-14.7)(28.3,-14.45)(28.45,-14.18)(28.6,-13.98)(28.75,-13.72)(28.9,-13.55)(29.05,-13.3)(29.2,-13.12)(29.35,-12.95)(29.5,-12.76)(29.65,-12.62)(29.8,-12.42)(29.95,-12.28)(30.1,-12.06)(30.25,-11.92)(30.4,-11.7)(30.55,-11.56)(30.7,-11.36)(30.85,-11.22)(31.0,-11.0)(31.15,-10.86)(31.3,-10.62)(31.45,-10.5)(31.6,-10.3)(31.72,-10.18)(31.8,-10.16)(31.92,-10.25)(32.05,-10.4)(32.2,-10.52)(32.35,-10.82)(32.5,-11.1)(32.65,-11.48)(32.8,-11.95)(32.92,-12.45)(33.02,-12.95)(33.12,-13.5)(33.22,-14.1)(33.3,-14.7)};
\addplot[cOrg, nu] coordinates {(28.23,-14.7)(28.38,-14.45)(28.53,-14.18)(28.68,-13.98)(28.83,-13.72)(28.98,-13.55)(29.13,-13.3)(29.28,-13.12)(29.43,-12.95)(29.58,-12.76)(29.73,-12.62)(29.88,-12.42)(30.03,-12.28)(30.18,-12.06)(30.33,-11.92)(30.48,-11.7)(30.63,-11.56)(30.78,-11.36)(30.93,-11.22)(31.08,-11.0)(31.23,-10.86)(31.38,-10.62)(31.53,-10.5)(31.68,-10.3)(31.8,-10.2)(31.9,-10.24)(32.0,-10.36)(32.15,-10.5)(32.3,-10.78)(32.45,-11.05)(32.6,-11.42)(32.75,-11.88)(32.9,-12.4)(33.02,-12.95)(33.14,-13.5)(33.25,-14.1)(33.35,-14.7)};
\addplot[cAzu, nu] coordinates {(28.55,-14.7)(28.7,-14.45)(28.85,-14.18)(29.0,-13.98)(29.15,-13.72)(29.3,-13.55)(29.45,-13.3)(29.6,-13.12)(29.75,-12.95)(29.9,-12.76)(30.05,-12.62)(30.2,-12.42)(30.35,-12.28)(30.5,-12.06)(30.65,-11.92)(30.8,-11.7)(30.95,-11.56)(31.1,-11.36)(31.22,-11.24)(31.35,-11.16)(31.48,-11.12)(31.6,-11.12)(31.7,-11.16)(31.8,-11.25)(31.95,-11.45)(32.1,-11.7)(32.25,-11.98)(32.4,-12.3)(32.55,-12.68)(32.7,-13.1)(32.85,-13.55)(32.97,-14.0)(33.07,-14.4)(33.15,-14.7)};
\addplot[cCyn, nu] coordinates {(28.47,-14.7)(28.62,-14.45)(28.77,-14.18)(28.92,-13.98)(29.07,-13.72)(29.22,-13.55)(29.37,-13.3)(29.52,-13.12)(29.67,-12.95)(29.82,-12.76)(29.97,-12.62)(30.12,-12.42)(30.27,-12.28)(30.42,-12.06)(30.57,-11.92)(30.72,-11.7)(30.87,-11.56)(31.02,-11.36)(31.17,-11.22)(31.32,-11.0)(31.45,-10.86)(31.56,-10.76)(31.68,-10.7)(31.8,-10.76)(31.95,-10.9)(32.1,-11.08)(32.25,-11.32)(32.4,-11.6)(32.55,-11.95)(32.7,-12.4)(32.83,-12.88)(32.95,-13.35)(33.05,-13.85)(33.15,-14.3)(33.22,-14.7)};
\addplot[cGrn, nu] coordinates {(28.39,-14.7)(28.54,-14.45)(28.69,-14.18)(28.84,-13.98)(28.99,-13.72)(29.14,-13.55)(29.29,-13.3)(29.44,-13.12)(29.59,-12.95)(29.74,-12.76)(29.89,-12.62)(30.04,-12.42)(30.19,-12.28)(30.34,-12.06)(30.49,-11.92)(30.64,-11.7)(30.79,-11.56)(30.94,-11.36)(31.09,-11.22)(31.24,-11.0)(31.39,-10.86)(31.52,-10.7)(31.64,-10.56)(31.76,-10.5)(31.88,-10.55)(32.0,-10.66)(32.15,-10.85)(32.3,-11.1)(32.45,-11.38)(32.6,-11.75)(32.75,-12.2)(32.88,-12.7)(33.0,-13.2)(33.1,-13.7)(33.2,-14.2)(33.28,-14.7)};
\addplot[cChr, nu] coordinates {(28.31,-14.7)(28.46,-14.45)(28.61,-14.18)(28.76,-13.98)(28.91,-13.72)(29.06,-13.55)(29.21,-13.3)(29.36,-13.12)(29.51,-12.95)(29.66,-12.76)(29.81,-12.62)(29.96,-12.42)(30.11,-12.28)(30.26,-12.06)(30.41,-11.92)(30.56,-11.7)(30.71,-11.56)(30.86,-11.36)(31.01,-11.22)(31.16,-11.0)(31.31,-10.86)(31.46,-10.62)(31.6,-10.48)(31.72,-10.38)(31.82,-10.35)(31.92,-10.42)(32.05,-10.55)(32.2,-10.72)(32.35,-10.98)(32.5,-11.28)(32.65,-11.65)(32.8,-12.1)(32.93,-12.6)(33.05,-13.1)(33.15,-13.6)(33.25,-14.15)(33.32,-14.7)};
\datapoints
\end{axis}
\begin{axis}[botax, at={(366pt,45pt)}]\end{axis}
\begin{axis}[leftax, at={(366pt,45pt)}]\end{axis}
\begin{axis}[topax, at={(366pt,45pt)}]\end{axis}
\begin{axis}[rightax, at={(366pt,45pt)}]\end{axis}
\node[rotate=90, anchor=east, inner sep=0pt, font=\lab] at (342.5pt,225.5pt) {ν Fν (erg cm\textsuperscript{-2} s\textsuperscript{-1})};
\node[rotate=90, anchor=east, inner sep=0pt, font=\lab] at (655pt,225pt) {ν Lν (erg s\textsuperscript{-1})};
\node[anchor=base east, inner sep=0pt, font=\lab] at (633.5pt,236.5pt) {Energy (eV)};
\node[anchor=base east, inner sep=0pt, font=\lab] at (633.5pt,30.5pt) {ν (Hz)};
\node[anchor=base, inner sep=0pt, font=\fontsize{7.85}{10}\selectfont] at (500pt,8.5pt) {(b) Lepto-hadronic modeling of TXS\,0506+056};
\end{tikzpicture}
\end{document}
